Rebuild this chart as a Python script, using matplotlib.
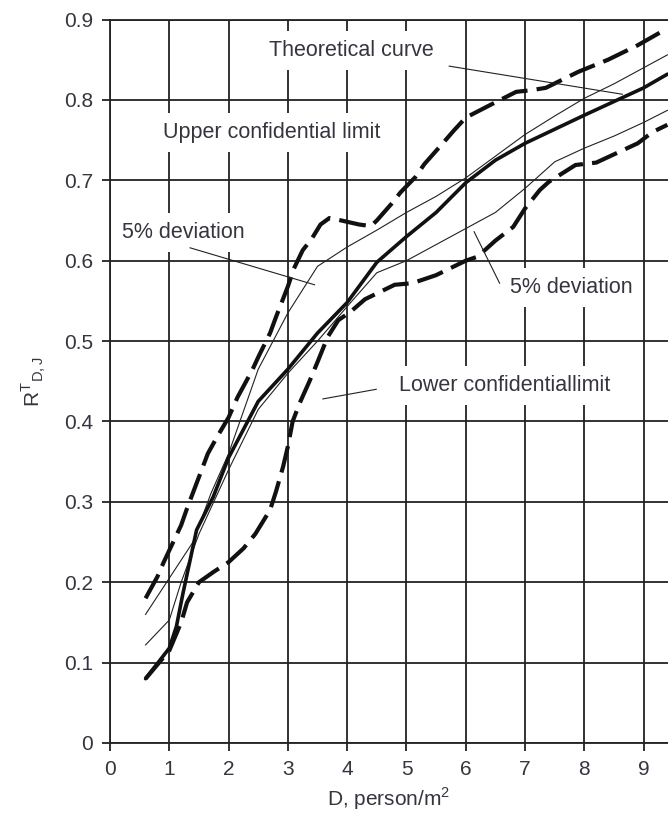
import matplotlib.pyplot as plt

plt.rcParams["font.family"] = ["Liberation Sans", "DejaVu Sans"]
plt.rcParams["mathtext.fontset"] = "custom"
plt.rcParams["mathtext.rm"] = "Liberation Sans"

TXT = "#35353f"

# theoretical curve
theory_x = [0.6, 1.0, 1.12, 1.23, 1.46, 1.74, 2.0, 2.5, 3.0, 3.5, 4.0, 4.5,
            5.0, 5.5, 6.0, 6.5, 7.0, 8.0, 9.0, 9.4]
theory_y = [0.08, 0.118, 0.145, 0.186, 0.265, 0.306, 0.355, 0.425, 0.465, 0.51,
            0.548, 0.598, 0.63, 0.66, 0.697, 0.725, 0.746, 0.781, 0.815, 0.832]

# 5% deviation band
dev_hi_x = [0.6, 1.0, 1.4, 1.7, 2.0, 2.5, 3.0, 3.5, 4.0, 4.5, 5.0, 5.5, 6.0,
            6.5, 7.0, 7.5, 8.0, 8.5, 9.0, 9.4]
dev_hi_y = [0.16, 0.205, 0.25, 0.31, 0.36, 0.465, 0.535, 0.593, 0.617, 0.638,
            0.66, 0.68, 0.703, 0.73, 0.757, 0.78, 0.802, 0.82, 0.84, 0.856]
dev_lo_x = [0.6, 1.0, 1.2, 1.5, 2.0, 2.5, 3.0, 3.5, 4.0, 4.5, 5.0, 5.5, 6.0,
            6.5, 7.0, 7.5, 8.0, 8.5, 9.0, 9.4]
dev_lo_y = [0.122, 0.153, 0.2, 0.26, 0.34, 0.415, 0.46, 0.5, 0.543, 0.585,
            0.6, 0.62, 0.64, 0.66, 0.69, 0.723, 0.74, 0.755, 0.772, 0.787]

# confidential limits
upper_x = [0.6, 0.8, 0.9, 1.2, 1.3, 1.65, 1.8, 2.0, 2.15, 2.4, 2.5, 2.7, 2.8,
           3.0, 3.1, 3.25, 3.4, 3.55, 3.7, 3.9, 4.2, 4.4, 4.5, 4.75, 4.9,
           5.15, 5.3, 5.6, 5.8, 6.0, 6.5, 6.85, 7.1, 7.35, 7.9, 8.4, 8.9, 9.4]
upper_y = [0.18, 0.207, 0.224, 0.271, 0.292, 0.36, 0.38, 0.405, 0.43, 0.464,
           0.48, 0.51, 0.53, 0.568, 0.59, 0.613, 0.627, 0.645, 0.653, 0.65,
           0.645, 0.643, 0.65, 0.671, 0.685, 0.704, 0.72, 0.745, 0.762, 0.778,
           0.797, 0.81, 0.812, 0.815, 0.835, 0.85, 0.868, 0.889]
lower_x = [0.6, 1.0, 1.2, 1.3, 1.5, 1.75, 2.0, 2.25, 2.45, 2.7, 2.8, 2.92,
           3.0, 3.08, 3.2, 3.37, 3.5, 3.67, 3.85, 4.05, 4.3, 4.8, 5.1, 5.5,
           6.0, 6.2, 6.5, 6.8, 7.0, 7.25, 7.4, 7.85, 8.2, 8.9, 9.15, 9.4]
lower_y = [0.08, 0.115, 0.15, 0.175, 0.2, 0.213, 0.225, 0.242, 0.26, 0.29,
           0.313, 0.344, 0.369, 0.4, 0.423, 0.451, 0.474, 0.505, 0.526, 0.536,
           0.552, 0.57, 0.572, 0.582, 0.6, 0.605, 0.625, 0.642, 0.665, 0.688,
           0.698, 0.719, 0.722, 0.746, 0.76, 0.769]

x_ticks = list(range(10))
y_ticks = [0, 0.1, 0.2, 0.3, 0.4, 0.5, 0.6, 0.7, 0.8, 0.9]
y_tick_labels = ["0", "0.1", "0.2", "0.3", "0.4", "0.5", "0.6", "0.7", "0.8", "0.9"]

fig = plt.figure(figsize=(6.68, 8.15), dpi=100)
ax = fig.add_axes([110 / 668, 72 / 815, 558 / 668, 723.5 / 815])

ax.plot(dev_hi_x, dev_hi_y, color="#222222", lw=0.8)
ax.plot(dev_lo_x, dev_lo_y, color="#222222", lw=0.8)
ax.plot(theory_x, theory_y, color="#111111", lw=2.6, solid_capstyle="round")
ax.plot(upper_x, upper_y, color="#111111", lw=3.0, dashes=(6.5, 2.2))
ax.plot(lower_x, lower_y, color="#111111", lw=3.0, dashes=(6.5, 2.2))

box = dict(boxstyle="square,pad=0.42", fc="white", ec="none")
labels = [
    ("Theoretical curve", 4.07, 0.862),
    ("Upper confidential limit", 2.73, 0.759),
    ("5% deviation", 1.23, 0.635),
    ("5% deviation", 7.78, 0.567),
    ("Lower confidentiallimit", 6.65, 0.445),
]
for s, tx, ty in labels:
    ax.text(tx, ty, s, ha="center", va="center", fontsize=15.5, color=TXT,
            bbox=box, zorder=3)

# leader lines from labels to curves
leaders = [
    ((5.72, 0.842), (8.64, 0.807)),
    ((1.35, 0.616), (3.45, 0.570)),
    ((6.57, 0.572), (6.14, 0.636)),
    ((4.49, 0.440), (3.59, 0.428)),
]
for (x1, y1), (x2, y2) in leaders:
    ax.plot([x1, x2], [y1, y2], color="#222222", lw=0.8, zorder=4)

ax.set_xlim(0, 9.41)
ax.set_ylim(0, 0.9)
ax.set_xticks(x_ticks)
ax.set_yticks(y_ticks)
ax.set_yticklabels(y_tick_labels)
ax.grid(True, color="#222222", lw=1.3)
for side in ["left", "bottom", "top"]:
    ax.spines[side].set_linewidth(1.3)
    ax.spines[side].set_color("#222222")
    ax.spines[side].set_zorder(5)
ax.spines["right"].set_visible(False)
ax.tick_params(direction="out", length=6, width=1.3, color="#222222",
               labelsize=15, labelcolor=TXT, pad=6)

ax.set_xlabel("D, person/m$^2$", fontsize=15, color=TXT, labelpad=5)
ax.set_ylabel(r"R$^{\mathregular{T}}$$_{\mathregular{D,J}}$", fontsize=15,
              color=TXT, labelpad=12)

fig.savefig("out.png", dpi=100)
